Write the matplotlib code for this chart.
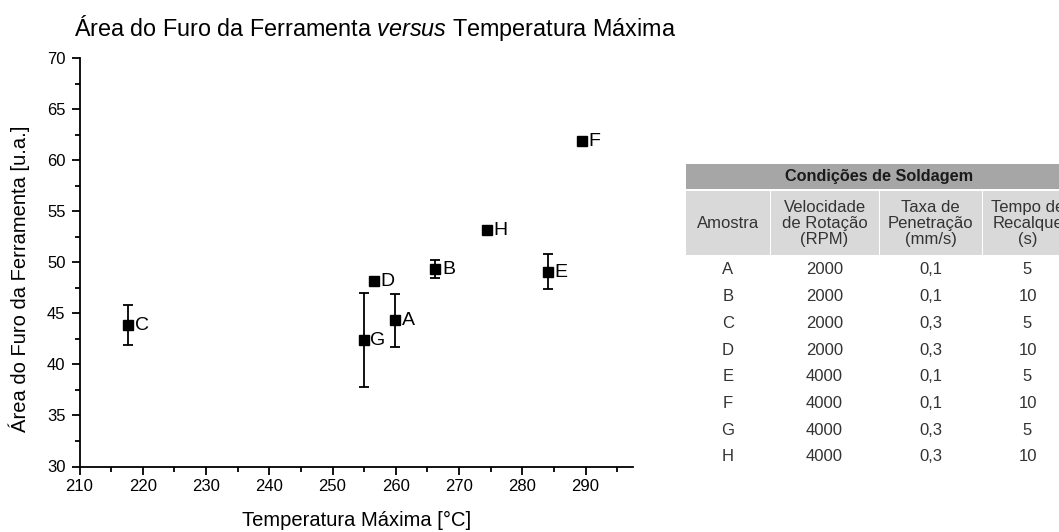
import matplotlib
matplotlib.use("Agg")
import matplotlib.pyplot as plt
from matplotlib.patches import Rectangle

plt.rcParams['font.family'] = ['Liberation Sans', 'DejaVu Sans']
plt.rcParams['mathtext.fontset'] = 'custom'
plt.rcParams['mathtext.rm'] = 'Liberation Sans'
plt.rcParams['mathtext.it'] = 'Liberation Sans:italic'

# dados
amostras = ['A', 'B', 'C', 'D', 'E', 'F', 'G', 'H']
temp_max = [259.8, 266.2, 217.7, 256.5, 284.0, 289.4, 254.9, 274.4]
area_furo = [44.35, 49.35, 43.85, 48.15, 49.1, 61.9, 42.4, 53.2]
erro = [2.6, 0.9, 1.95, 0.3, 1.75, 0.3, 4.65, 0.4]

# tabela de condicoes
cabecalho = ['Amostra', 'Velocidade\nde Rotação\n(RPM)', 'Taxa de\nPenetração\n(mm/s)',
             'Tempo de\nRecalque\n(s)']
velocidade = ['2000', '2000', '2000', '2000', '4000', '4000', '4000', '4000']
taxa = ['0,1', '0,1', '0,3', '0,3', '0,1', '0,1', '0,3', '0,3']
tempo = ['5', '10', '5', '10', '5', '10', '5', '10']

W, H = 1059, 532
fig = plt.figure(figsize=(W / 100, H / 100), dpi=100)

ax = fig.add_axes([79.5 / W, 65.5 / H, 553.5 / W, 408.2 / H])
ax.errorbar(temp_max, area_furo, yerr=erro, fmt='s', color='black', ms=6.5,
            capsize=3.6, elinewidth=1.3, capthick=1.3)
for nome, x, y in zip(amostras, temp_max, area_furo):
    ax.annotate(nome, (x, y), xytext=(5, -0.5), textcoords='offset points',
                va='center', ha='left', fontsize=14)

ax.set_xlim(210, 297.5)
ax.set_ylim(30, 70)
ax.set_xticks(range(210, 291, 10))
ax.set_xticks(range(215, 296, 10), minor=True)
ax.set_yticks(range(30, 71, 5))
ax.set_yticks([32.5 + 5 * i for i in range(8)], minor=True)
ax.spines['top'].set_visible(False)
ax.spines['right'].set_visible(False)
for s in ['left', 'bottom']:
    ax.spines[s].set_linewidth(1.3)
ax.tick_params(which='major', direction='out', length=6, width=1.3, labelsize=12)
ax.tick_params(axis='y', which='major', pad=4)
ax.tick_params(axis='x', which='major', pad=3)
ax.tick_params(which='minor', direction='out', length=3.5, width=1.3)

ax.set_xlabel('Temperatura Máxima [°C]', fontsize=14.5, labelpad=12)
ax.set_ylabel('Área do Furo da Ferramenta [u.a.]', fontsize=14.5)
ax.yaxis.set_label_coords(-0.089, 0.46)

fig.text(74 / W, 1 - 36 / H,
         r'Área do Furo da Ferramenta $\mathit{versus}$ Temperatura Máxima',
         fontsize=16.8, ha='left', va='baseline')

# tabela desenhada em pixels
larguras = [84, 109, 103, 91]
tab_w = sum(larguras)
tab_h = 306
tx = fig.add_axes([686 / W, (H - 164 - tab_h) / H, tab_w / W, tab_h / H])
tx.set_xlim(0, tab_w)
tx.set_ylim(tab_h, 0)
tx.axis('off')

tx.add_patch(Rectangle((0, 0), tab_w, 24.5, facecolor='#a6a6a6', edgecolor='none'))
tx.text(tab_w / 2, 12.5, 'Condições de Soldagem', ha='center', va='center',
        fontsize=11.7, fontweight='bold', color='#1a1a1a')

esq = 0
colunas = [amostras, velocidade, taxa, tempo]
for j, (larg, titulo) in enumerate(zip(larguras, cabecalho)):
    tx.add_patch(Rectangle((esq + (1 if j else 0), 27), larg - (1 if j else 0), 64,
                           facecolor='#d9d9d9', edgecolor='none'))
    tx.text(esq + larg / 2, 59.5, titulo, ha='center', va='center', fontsize=12,
            color='#333333', linespacing=1.05)
    for i, val in enumerate(colunas[j]):
        tx.text(esq + larg / 2, 106 + 26.7 * i, val, ha='center', va='center',
                fontsize=12, color='#333333')
    esq += larg

fig.savefig('out.png', dpi=100)
